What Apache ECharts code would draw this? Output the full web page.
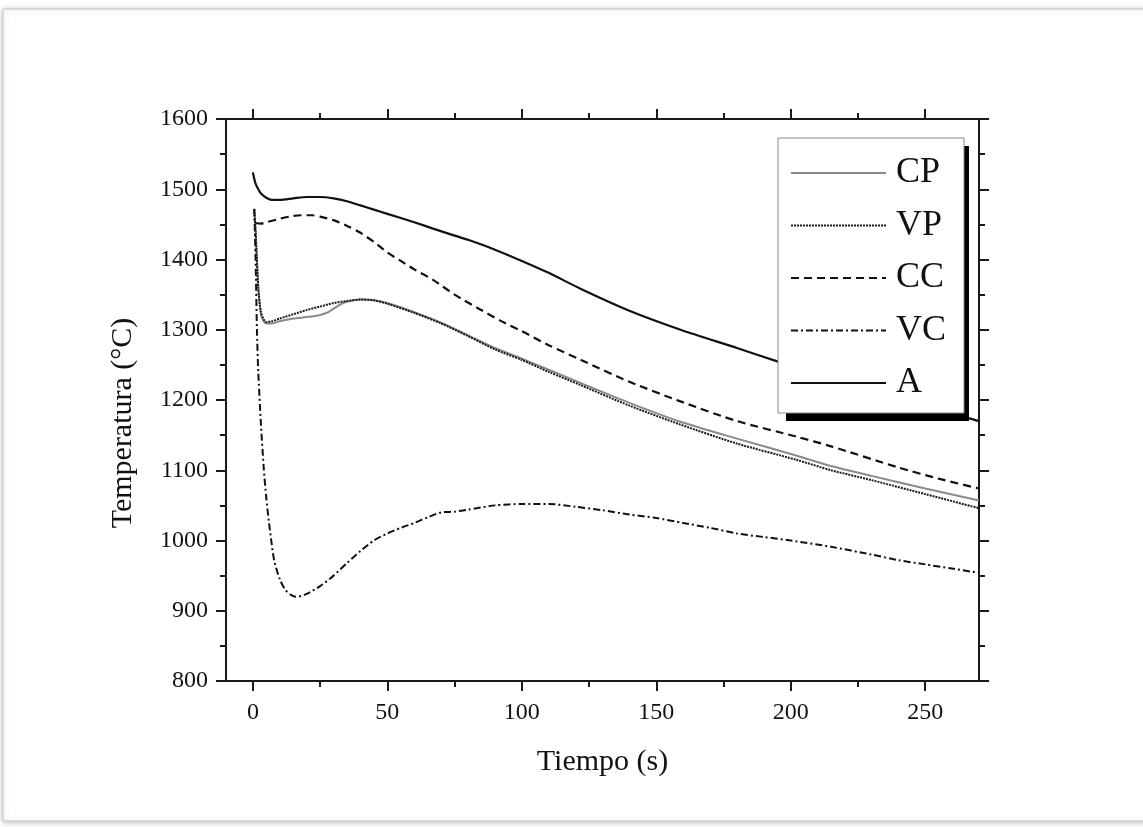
<!DOCTYPE html>
<html>
<head>
<meta charset="utf-8">
<script src="https://cdn.jsdelivr.net/npm/echarts@6/dist/echarts.min.js"></script>
<style>
html,body{margin:0;padding:0;background:#fff;}
#chart{width:1143px;height:827px;}
</style>
</head>
<body>
<div id="chart"></div>
<script>
// ---- data ----
const seriesNames = ['CP', 'VP', 'CC', 'VC', 'A'];
const xTicks = [0, 50, 100, 150, 200, 250];
const xMinorTicks = [25, 75, 125, 175, 225];
const yTicks = [800, 900, 1000, 1100, 1200, 1300, 1400, 1500, 1600];

const timeCP = [0.5,1,2,3,4,5,7,10,15,20,25,28,30,33,35,40,45,50,60,70,80,90,100,110,122,140,159,180,202,215,230,250,270];
const tempCP = [1472,1440,1360,1322,1312,1309,1309,1312,1316,1318,1321,1325,1330,1337,1340,1343,1342,1338,1325,1310,1292,1274,1259,1243,1224,1196,1169,1145,1121,1106,1092,1074,1057];

const timeVP = [0.5,1,2,3,4,5,7,10,15,20,25,30,35,40,45,50,60,70,80,90,100,110,122,140,159,180,202,215,230,250,270];
const tempVP = [1472,1440,1360,1325,1315,1311,1312,1316,1322,1328,1333,1338,1341,1343,1342,1337,1324,1309,1291,1272,1257,1240,1221,1192,1165,1138,1115,1100,1086,1066,1046];

const timeCC = [1,3,5,10,15,18,22,25,30,36,40,45,50,55,60,67,75,84,92,100,110,122,140,159,180,202,215,240,255,270];
const tempCC = [1452,1451,1453,1458,1462,1463,1463,1461,1456,1446,1438,1425,1410,1398,1386,1371,1350,1330,1313,1298,1278,1257,1226,1198,1170,1148,1134,1104,1088,1074];

const timeVC = [0.5,1,1.5,2,3,4,5,6,7,8,10,12,14,16,18,20,25,30,35,40,45,50,55,60,65,70,75,80,90,100,110,120,130,140,150,160,170,180,190,200,215,230,240,250,260,270];
const tempVC = [1472,1400,1300,1240,1165,1105,1060,1025,995,970,945,930,923,920,921,924,935,950,968,985,1000,1010,1018,1025,1033,1040,1041,1044,1050,1052,1052,1048,1043,1037,1032,1025,1018,1010,1005,1000,991,980,972,966,960,954];

const timeA = [0,0.5,1,2,3,5,7,10,15,20,25,30,35,40,45,50,60,67,75,80,90,100,110,122,140,159,180,195,210,230,250,270];
const tempA = [1524,1515,1508,1500,1494,1488,1485,1485,1487,1489,1489,1487,1483,1477,1471,1465,1453,1444,1434,1428,1414,1398,1381,1358,1327,1300,1274,1255,1237,1214,1192,1170];

function pairs(xs, ys) { return xs.map((x, i) => [x, ys[i]]); }

const FONT = '"Liberation Serif", "Times New Roman", serif';
const AX = '#1a1a1a';

const chart = echarts.init(document.getElementById('chart'), null, {renderer: 'canvas'});

const baseX = {
  type: 'value', min: -10, max: 270, gridIndex: 0,
  splitLine: {show: false},
  axisLine: {show: true, onZero: false, lineStyle: {color: AX, width: 2}}
};
const baseY = {
  type: 'value', min: 800, max: 1600, interval: 100,
  splitLine: {show: false},
  axisLine: {show: true, onZero: false, lineStyle: {color: AX, width: 2}},
  axisTick: {show: true, inside: false, length: 10, lineStyle: {color: AX, width: 2}},
  minorTick: {show: true, splitNumber: 2, length: 6, lineStyle: {color: AX, width: 2}}
};

const lineCommon = {type: 'line', xAxisIndex: 0, yAxisIndex: 0, showSymbol: false, symbol: 'none',
                    smooth: 0.25};

const option = {
  backgroundColor: '#ffffff',
  animation: false,
  graphic: [
    {
      type: 'rect', z: -10, silent: true,
      shape: {x: 3, y: 9, width: 1160, height: 812},
      style: {fill: '#ffffff', stroke: '#c4c4c4', lineWidth: 1,
              shadowBlur: 6, shadowColor: 'rgba(0,0,0,0.25)', shadowOffsetX: 0, shadowOffsetY: 1}
    },
    {
      type: 'rect', z: 3, silent: true,
      shape: {x: 786, y: 146, width: 183, height: 275},
      style: {fill: '#000000'}
    }
  ],
  grid: {left: 226, right: 164, top: 119, bottom: 146, containLabel: false},
  legend: {
    orient: 'vertical', left: 778, top: 138, z: 5,
    data: seriesNames,
    backgroundColor: '#ffffff', borderColor: '#8a8a8a', borderWidth: 1,
    padding: [15, 18, 10, 12],
    itemWidth: 95, itemHeight: 14, itemGap: 12.5,
    selectedMode: false,
    itemStyle: {opacity: 0, borderWidth: 0},
    textStyle: {fontFamily: FONT, fontSize: 36, color: '#111', lineHeight: 40, padding: [0, 0, 0, 5]}
  },
  xAxis: [
    Object.assign({}, baseX, {
      position: 'bottom',
      name: 'Tiempo (s)', nameLocation: 'middle', nameGap: 66,
      nameTextStyle: {fontFamily: FONT, fontSize: 30, color: '#111'},
      axisTick: {show: true, inside: false, length: 10, customValues: xTicks, lineStyle: {color: AX, width: 2}},
      axisLabel: {show: true, customValues: xTicks, margin: 20, fontFamily: FONT, fontSize: 24, color: '#111',
                  formatter: v => String(v)}
    }),
    Object.assign({}, baseX, {
      position: 'bottom',
      axisLine: {show: false},
      axisTick: {show: true, inside: false, length: 6, customValues: xMinorTicks, lineStyle: {color: AX, width: 2}},
      axisLabel: {show: false}
    }),
    Object.assign({}, baseX, {
      position: 'top',
      axisTick: {show: true, inside: false, length: 10, customValues: xTicks, lineStyle: {color: AX, width: 2}},
      axisLabel: {show: false}
    }),
    Object.assign({}, baseX, {
      position: 'top',
      axisLine: {show: false},
      axisTick: {show: true, inside: false, length: 6, customValues: xMinorTicks, lineStyle: {color: AX, width: 2}},
      axisLabel: {show: false}
    })
  ],
  yAxis: [
    Object.assign({}, baseY, {
      position: 'left',
      name: 'Temperatura (°C)', nameLocation: 'middle', nameGap: 88, nameRotate: 90,
      nameTextStyle: {fontFamily: FONT, fontSize: 30, color: '#111', padding: [0, 46, 0, 0]},
      axisLabel: {show: true, margin: 18, fontFamily: FONT, fontSize: 24, color: '#111',
                  customValues: yTicks, formatter: v => String(v)}
    }),
    Object.assign({}, baseY, {
      position: 'right',
      axisLabel: {show: false}
    })
  ],
  series: [
    Object.assign({}, lineCommon, {name: 'CP', z: 2, data: pairs(timeCP, tempCP),
      itemStyle: {color: '#8a8a8a'}, lineStyle: {color: '#8a8a8a', width: 2, type: 'solid'}}),
    Object.assign({}, lineCommon, {name: 'VP', z: 3, data: pairs(timeVP, tempVP),
      itemStyle: {color: '#1a1a1a'}, lineStyle: {color: '#1a1a1a', width: 2, type: [2, 1]}}),
    Object.assign({}, lineCommon, {name: 'CC', z: 2, data: pairs(timeCC, tempCC),
      itemStyle: {color: '#111'}, lineStyle: {color: '#111', width: 2.2, type: [8, 5]}}),
    Object.assign({}, lineCommon, {name: 'VC', z: 2, data: pairs(timeVC, tempVC),
      itemStyle: {color: '#111'}, lineStyle: {color: '#111', width: 2, type: [7, 3, 2, 3]}}),
    Object.assign({}, lineCommon, {name: 'A', z: 2, data: pairs(timeA, tempA),
      itemStyle: {color: '#111'}, lineStyle: {color: '#111', width: 2.2, type: 'solid'}})
  ]
};
chart.setOption(option);
</script>
</body>
</html>
